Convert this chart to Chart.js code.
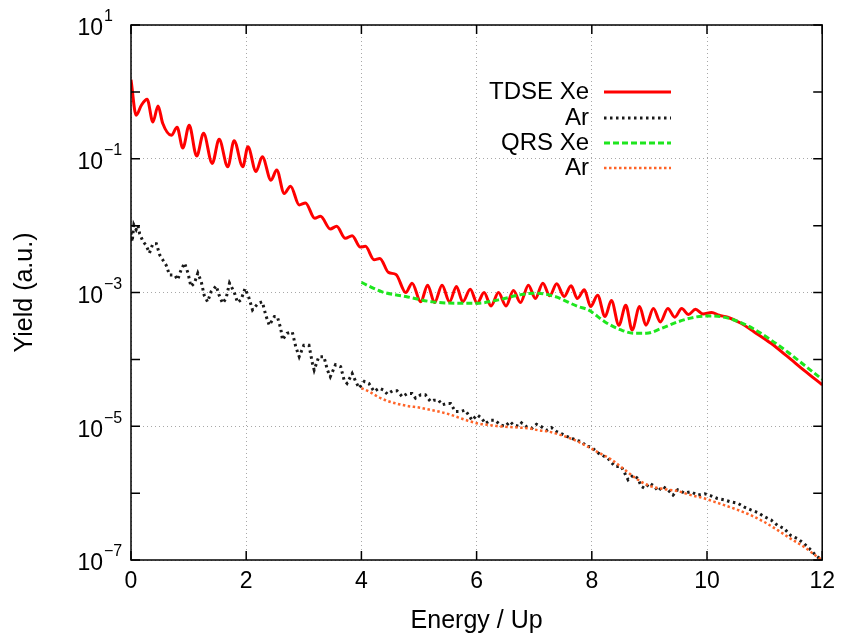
<!DOCTYPE html>
<html lang="en">
<head>
    <meta charset="UTF-8">
    <title>Yield vs Energy</title>
    <script src="https://cdn.jsdelivr.net/npm/chart.js"></script>
    <style>
        body { margin: 0; background: #fff; }
        canvas { display: block; }
    </style>
</head>
<body>
    <canvas id="yieldChart" width="843" height="641"></canvas>

    <script>
        // values; y values are log10(yield)
        const tdseXeX = [0, 0.09, 0.18, 0.28, 0.38, 0.47, 0.55, 0.70, 0.80, 0.90, 1.01, 1.14, 1.26, 1.41, 1.53, 1.68, 1.79, 1.94, 2.03, 2.17, 2.28, 2.43, 2.53, 2.66, 2.77, 2.92, 3.03, 3.19, 3.29, 3.46, 3.57, 3.72, 3.84, 3.98, 4.07, 4.22, 4.32, 4.47, 4.60, 4.77, 4.88, 5.03, 5.15, 5.27, 5.40, 5.53, 5.65, 5.76, 5.89, 6.01, 6.13, 6.25, 6.38, 6.51, 6.64, 6.76, 6.90, 7.02, 7.15, 7.27, 7.39, 7.52, 7.64, 7.75, 7.87, 7.98, 8.10, 8.23, 8.34, 8.47, 8.59, 8.70, 8.83, 8.94, 9.07, 9.19, 9.32, 9.44, 9.56, 9.68, 9.80, 9.93, 10.08, 10.21, 10.36, 10.59, 10.82, 11.11, 11.40, 11.68, 12.0];
        const tdseXeLog = [0.18, -0.35, -0.20, -0.11, -0.45, -0.21, -0.47, -0.65, -0.53, -0.84, -0.50, -0.96, -0.62, -1.07, -0.71, -1.12, -0.73, -1.12, -0.82, -1.19, -0.97, -1.32, -1.17, -1.52, -1.41, -1.69, -1.66, -1.89, -1.86, -2.05, -2.01, -2.19, -2.15, -2.32, -2.31, -2.51, -2.49, -2.70, -2.73, -3.00, -2.86, -3.14, -2.89, -3.15, -2.89, -3.14, -2.91, -3.14, -2.95, -3.16, -3.00, -3.20, -3.00, -3.20, -2.97, -3.15, -2.89, -3.09, -2.86, -3.05, -2.87, -3.06, -2.90, -3.09, -2.96, -3.21, -3.04, -3.36, -3.12, -3.49, -3.19, -3.56, -3.21, -3.49, -3.24, -3.44, -3.24, -3.37, -3.24, -3.33, -3.25, -3.32, -3.30, -3.34, -3.37, -3.46, -3.59, -3.76, -3.96, -4.16, -4.38];

        const tdseArX = [0, 0.02, 0.05, 0.09, 0.12, 0.15, 0.21, 0.26, 0.32, 0.38, 0.44, 0.50, 0.55, 0.61, 0.67, 0.76, 0.81, 0.87, 0.93, 0.99, 1.04, 1.10, 1.16, 1.22, 1.27, 1.33, 1.39, 1.48, 1.53, 1.59, 1.65, 1.71, 1.79, 1.85, 1.91, 1.98, 2.04, 2.11, 2.21, 2.28, 2.34, 2.40, 2.49, 2.54, 2.60, 2.63, 2.71, 2.80, 2.86, 2.92, 3.00, 3.09, 3.15, 3.18, 3.26, 3.35, 3.41, 3.46, 3.55, 3.64, 3.70, 3.75, 3.84, 3.90, 3.96, 4.05, 4.13, 4.22, 4.31, 4.39, 4.45, 4.54, 4.62, 4.71, 4.80, 4.88, 4.94, 5.03, 5.11, 5.20, 5.26, 5.34, 5.40, 5.49, 5.55, 5.63, 5.72, 5.80, 5.86, 5.92, 6.01, 6.09, 6.15, 6.24, 6.32, 6.41, 6.50, 6.58, 6.64, 6.73, 6.78, 6.87, 6.96, 7.04, 7.13, 7.22, 7.30, 7.39, 7.47, 7.56, 7.65, 7.73, 7.82, 7.91, 7.99, 8.11, 8.28, 8.40, 8.51, 8.57, 8.63, 8.72, 8.80, 8.86, 8.92, 9.00, 9.09, 9.15, 9.23, 9.32, 9.41, 9.49, 9.61, 9.72, 9.84, 9.96, 10.07, 10.18, 10.30, 10.41, 10.53, 10.65, 10.76, 10.88, 10.99, 11.11, 11.22, 11.34, 11.45, 11.57, 11.68, 11.80, 11.91, 12.0];
        const tdseArLog = [-2.10, -2.24, -1.99, -2.06, -2.00, -2.12, -2.24, -2.29, -2.41, -2.27, -2.27, -2.44, -2.51, -2.59, -2.74, -2.74, -2.81, -2.66, -2.56, -2.71, -2.91, -2.86, -2.71, -2.84, -3.04, -3.14, -2.99, -2.90, -3.04, -3.16, -3.09, -2.86, -2.99, -3.15, -3.11, -2.94, -3.06, -3.26, -3.16, -3.14, -3.34, -3.49, -3.36, -3.36, -3.54, -3.71, -3.61, -3.59, -3.81, -3.96, -3.79, -3.79, -4.06, -4.16, -3.96, -3.96, -4.16, -4.26, -4.08, -4.11, -4.31, -4.36, -4.21, -4.33, -4.43, -4.33, -4.36, -4.48, -4.43, -4.46, -4.52, -4.47, -4.47, -4.56, -4.51, -4.51, -4.58, -4.53, -4.53, -4.63, -4.61, -4.61, -4.68, -4.66, -4.66, -4.78, -4.78, -4.76, -4.83, -4.91, -4.83, -4.88, -4.96, -4.91, -4.91, -4.98, -5.00, -4.93, -4.98, -5.00, -4.95, -5.01, -5.03, -4.97, -5.01, -5.06, -5.02, -5.08, -5.11, -5.15, -5.18, -5.21, -5.23, -5.30, -5.31, -5.40, -5.48, -5.60, -5.60, -5.70, -5.80, -5.73, -5.78, -5.90, -5.93, -5.85, -5.90, -5.97, -5.90, -5.95, -6.03, -5.95, -6.00, -5.98, -6.03, -6.01, -6.04, -6.08, -6.10, -6.13, -6.15, -6.21, -6.25, -6.29, -6.35, -6.40, -6.48, -6.53, -6.63, -6.68, -6.75, -6.85, -6.95, -7.00];

        const qrsXeX = [4.0, 4.36, 4.77, 5.23, 5.63, 6.01, 6.38, 6.78, 7.02, 7.36, 7.76, 7.94, 8.23, 8.51, 8.74, 8.95, 9.20, 9.49, 9.78, 10.01, 10.24, 10.53, 10.82, 11.11, 11.40, 11.68, 12.0];
        const qrsXeLog = [-2.85, -2.99, -3.06, -3.14, -3.16, -3.16, -3.11, -3.03, -3.01, -3.06, -3.21, -3.26, -3.44, -3.56, -3.61, -3.61, -3.54, -3.44, -3.37, -3.35, -3.36, -3.43, -3.55, -3.71, -3.89, -4.08, -4.30];

        const qrsArX = [4.0, 4.13, 4.31, 4.48, 4.65, 4.82, 5.00, 5.17, 5.34, 5.52, 5.69, 5.86, 6.03, 6.21, 6.38, 6.55, 6.73, 6.90, 7.07, 7.25, 7.42, 7.59, 7.76, 7.94, 8.11, 8.34, 8.57, 8.80, 9.03, 9.26, 9.49, 9.72, 9.96, 10.13, 10.30, 10.53, 10.76, 10.99, 11.22, 11.45, 11.68, 11.91, 12.0];
        const qrsArLog = [-4.43, -4.48, -4.57, -4.63, -4.67, -4.70, -4.72, -4.75, -4.78, -4.82, -4.87, -4.92, -4.96, -4.98, -5.00, -5.01, -5.02, -5.03, -5.06, -5.08, -5.12, -5.17, -5.23, -5.31, -5.39, -5.50, -5.65, -5.80, -5.90, -5.94, -5.97, -6.03, -6.08, -6.13, -6.18, -6.25, -6.33, -6.43, -6.55, -6.68, -6.80, -6.95, -7.00];

        const xTicks = [0, 2, 4, 6, 8, 10, 12];
        const yLabelExps = [1, -1, -3, -5, -7];
        const yTickExps = [1, 0, -1, -2, -3, -4, -5, -6, -7];

        const FONT = "'Liberation Sans', Arial, sans-serif";

        function points(xs, logs) {
            return xs.map((x, i) => ({ x: x, y: Math.pow(10, logs[i]) }));
        }

        // frame, inward ticks, y labels with exponents and the key
        const gnuplotBits = {
            id: 'gnuplotBits',
            afterDraw(chart) {
                const ctx = chart.ctx;
                const a = chart.chartArea;
                const xs = chart.scales.x, ys = chart.scales.y;
                ctx.save();
                ctx.strokeStyle = '#000';
                ctx.lineWidth = 1.5;
                ctx.strokeRect(a.left, a.top, a.right - a.left, a.bottom - a.top);

                ctx.beginPath();
                xTicks.forEach(v => {
                    const px = xs.getPixelForValue(v);
                    ctx.moveTo(px, a.bottom); ctx.lineTo(px, a.bottom - 9);
                    ctx.moveTo(px, a.top); ctx.lineTo(px, a.top + 9);
                });
                yTickExps.forEach(e => {
                    const py = ys.getPixelForValue(Math.pow(10, e));
                    ctx.moveTo(a.left, py); ctx.lineTo(a.left + 9, py);
                    ctx.moveTo(a.right, py); ctx.lineTo(a.right - 9, py);
                });
                ctx.stroke();

                ctx.fillStyle = '#000';
                ctx.textBaseline = 'middle';
                yLabelExps.forEach(e => {
                    const py = ys.getPixelForValue(Math.pow(10, e));
                    ctx.font = '23px ' + FONT;
                    ctx.textAlign = 'right';
                    ctx.fillText('10', 103, py + 4);
                    ctx.font = '16px ' + FONT;
                    ctx.textAlign = 'left';
                    ctx.fillText(String(e).replace('-', '\u2212'), 104, py - 8);
                });

                const rows = [92, 118, 143, 168];
                ctx.font = '24px ' + FONT;
                ctx.textAlign = 'right';
                chart.data.datasets.forEach((ds, i) => {
                    ctx.fillStyle = '#000';
                    ctx.fillText(ds.label, 589, rows[i]);
                    ctx.beginPath();
                    ctx.strokeStyle = ds.borderColor;
                    ctx.lineWidth = ds.borderWidth;
                    ctx.setLineDash(ds.borderDash || []);
                    ctx.moveTo(604, rows[i]);
                    ctx.lineTo(671, rows[i]);
                    ctx.stroke();
                    ctx.setLineDash([]);
                });
                ctx.restore();
            }
        };

        const ctx = document.getElementById('yieldChart').getContext('2d');
        const yieldChart = new Chart(ctx, {
            type: 'scatter',
            data: {
                datasets: [
                    {
                        label: 'TDSE Xe',
                        data: points(tdseXeX, tdseXeLog),
                        showLine: true,
                        borderColor: '#ff0000',
                        borderWidth: 3,
                        pointRadius: 0,
                        cubicInterpolationMode: 'monotone',
                        order: 4
                    },
                    {
                        label: 'Ar',
                        data: points(tdseArX, tdseArLog),
                        showLine: true,
                        borderColor: '#1a1a1a',
                        borderWidth: 3,
                        borderDash: [2.5, 3.5],
                        pointRadius: 0,
                        order: 3
                    },
                    {
                        label: 'QRS Xe',
                        data: points(qrsXeX, qrsXeLog),
                        showLine: true,
                        borderColor: '#1ee61e',
                        borderWidth: 3,
                        borderDash: [6, 3],
                        pointRadius: 0,
                        cubicInterpolationMode: 'monotone',
                        order: 2
                    },
                    {
                        label: 'Ar',
                        data: points(qrsArX, qrsArLog),
                        showLine: true,
                        borderColor: '#ff6428',
                        borderWidth: 2.5,
                        borderDash: [2.5, 2.5],
                        pointRadius: 0,
                        cubicInterpolationMode: 'monotone',
                        order: 1
                    }
                ]
            },
            options: {
                responsive: false,
                animation: false,
                layout: { padding: { top: 25, right: 18, left: 0, bottom: 0 } },
                plugins: {
                    legend: { display: false },
                    tooltip: { enabled: false }
                },
                scales: {
                    x: {
                        type: 'linear',
                        min: 0,
                        max: 12,
                        afterBuildTicks: s => { s.ticks = xTicks.map(v => ({ value: v })); },
                        afterFit: s => { s.height = 81; },
                        ticks: {
                            color: '#000',
                            padding: 8,
                            maxRotation: 0,
                            font: { family: FONT, size: 23 }
                        },
                        grid: { color: '#a8a8a8', lineWidth: 1, drawTicks: false },
                        border: { display: false, dash: [1, 3] },
                        title: {
                            display: true,
                            text: 'Energy / Up',
                            color: '#000',
                            padding: { top: 0, bottom: 5 },
                            font: { family: FONT, size: 25 }
                        }
                    },
                    y: {
                        type: 'logarithmic',
                        min: 1e-7,
                        max: 10,
                        afterBuildTicks: s => { s.ticks = yLabelExps.map(e => ({ value: Math.pow(10, e) })); },
                        afterFit: s => { s.width = 131; },
                        ticks: { display: false },
                        grid: { color: '#a8a8a8', lineWidth: 1, drawTicks: false },
                        border: { display: false, dash: [1, 3] },
                        title: {
                            display: true,
                            text: 'Yield (a.u.)',
                            color: '#000',
                            padding: { top: 10, bottom: 0 },
                            font: { family: FONT, size: 25 }
                        }
                    }
                }
            },
            plugins: [gnuplotBits]
        });
    </script>
</body>
</html>
